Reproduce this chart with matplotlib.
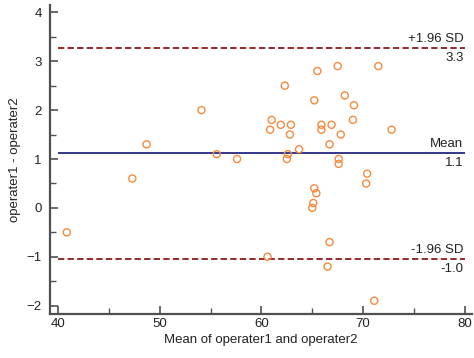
import matplotlib
matplotlib.use("Agg")
import matplotlib.pyplot as plt
from matplotlib.ticker import MultipleLocator

plt.rcParams["font.family"] = ["Liberation Sans", "DejaVu Sans"]

# Bland-Altman points: mean of the two operators vs their difference
MEANS = [40.85, 47.3, 48.7, 54.1, 55.6, 57.6, 65.5, 67.5, 71.5, 62.3,
         65.2, 68.2, 69.1, 69.0, 61.0, 60.85, 61.9, 62.9, 62.8, 65.9,
         65.9, 66.9, 67.8, 72.8, 66.7, 63.7, 62.6, 62.5, 67.6, 67.6,
         70.4, 70.3, 65.2, 65.4, 65.1, 65.0, 66.7, 60.6, 66.5, 71.1]
DIFFS = [-0.5, 0.6, 1.3, 2.0, 1.1, 1.0, 2.8, 2.9, 2.9, 2.5,
         2.2, 2.3, 2.1, 1.8, 1.8, 1.6, 1.7, 1.7, 1.5, 1.7,
         1.6, 1.7, 1.5, 1.6, 1.3, 1.2, 1.1, 1.0, 1.0, 0.9,
         0.7, 0.5, 0.4, 0.3, 0.1, 0.0, -0.7, -1.0, -1.2, -1.9]

MEAN_DIFF = 1.13
UPPER_LOA = 3.28
LOWER_LOA = -1.04
LINE_SPAN = (40, 80)

FS = 9.5

fig = plt.figure(figsize=(4.74, 3.58), dpi=100)
ax = fig.add_axes([0.1055, 0.123, 0.89, 0.863])

spine_color = "#505050"
text_color = "#222222"

ax.scatter(MEANS, DIFFS, s=26, facecolors="none", edgecolors="#F58A3C",
           linewidths=1.0, zorder=3)

ax.hlines(MEAN_DIFF, *LINE_SPAN, color="#262682", linewidth=1.3, zorder=2)
ax.hlines([UPPER_LOA, LOWER_LOA], *LINE_SPAN, color="#8B1A1A",
          linewidth=1.3, linestyles=(0, (3.5, 1.8)), zorder=2)

labels = [
    (UPPER_LOA, "+1.96 SD", f"{UPPER_LOA:.1f}"),
    (MEAN_DIFF, "Mean", f"{MEAN_DIFF:.1f}"),
    (LOWER_LOA, "-1.96 SD", f"{LOWER_LOA:.1f}"),
]
for y, top, bottom in labels:
    ax.annotate(top, xy=(LINE_SPAN[1], y), xytext=(-1, 2),
                textcoords="offset points", ha="right", va="bottom",
                fontsize=FS, color=text_color)
    ax.annotate(bottom, xy=(LINE_SPAN[1], y), xytext=(-1, -3),
                textcoords="offset points", ha="right", va="top",
                fontsize=FS, color=text_color)

ax.set_xlim(39.2, 80.7)
ax.set_ylim(-2.17, 4.15)
ax.xaxis.set_major_locator(MultipleLocator(10))
ax.xaxis.set_minor_locator(MultipleLocator(5))
ax.yaxis.set_major_locator(MultipleLocator(1))
ax.yaxis.set_minor_locator(MultipleLocator(0.5))

for side in ("top", "right"):
    ax.spines[side].set_visible(False)
for side in ("left", "bottom"):
    ax.spines[side].set_color(spine_color)
    ax.spines[side].set_linewidth(1.6)

ax.tick_params(which="major", direction="in", length=6, width=1.2,
               color=spine_color, labelsize=FS, labelcolor=text_color)
ax.tick_params(which="minor", direction="in", length=4, width=1.0,
               color=spine_color)
ax.tick_params(axis="y", pad=6)
ax.tick_params(axis="x", pad=3)

ax.set_xlabel("Mean of operater1 and operater2", fontsize=FS,
              color=text_color, labelpad=3)
ax.set_ylabel("operater1 - operater2", fontsize=FS, color=text_color,
              labelpad=4)

fig.savefig("out.png", dpi=100)
